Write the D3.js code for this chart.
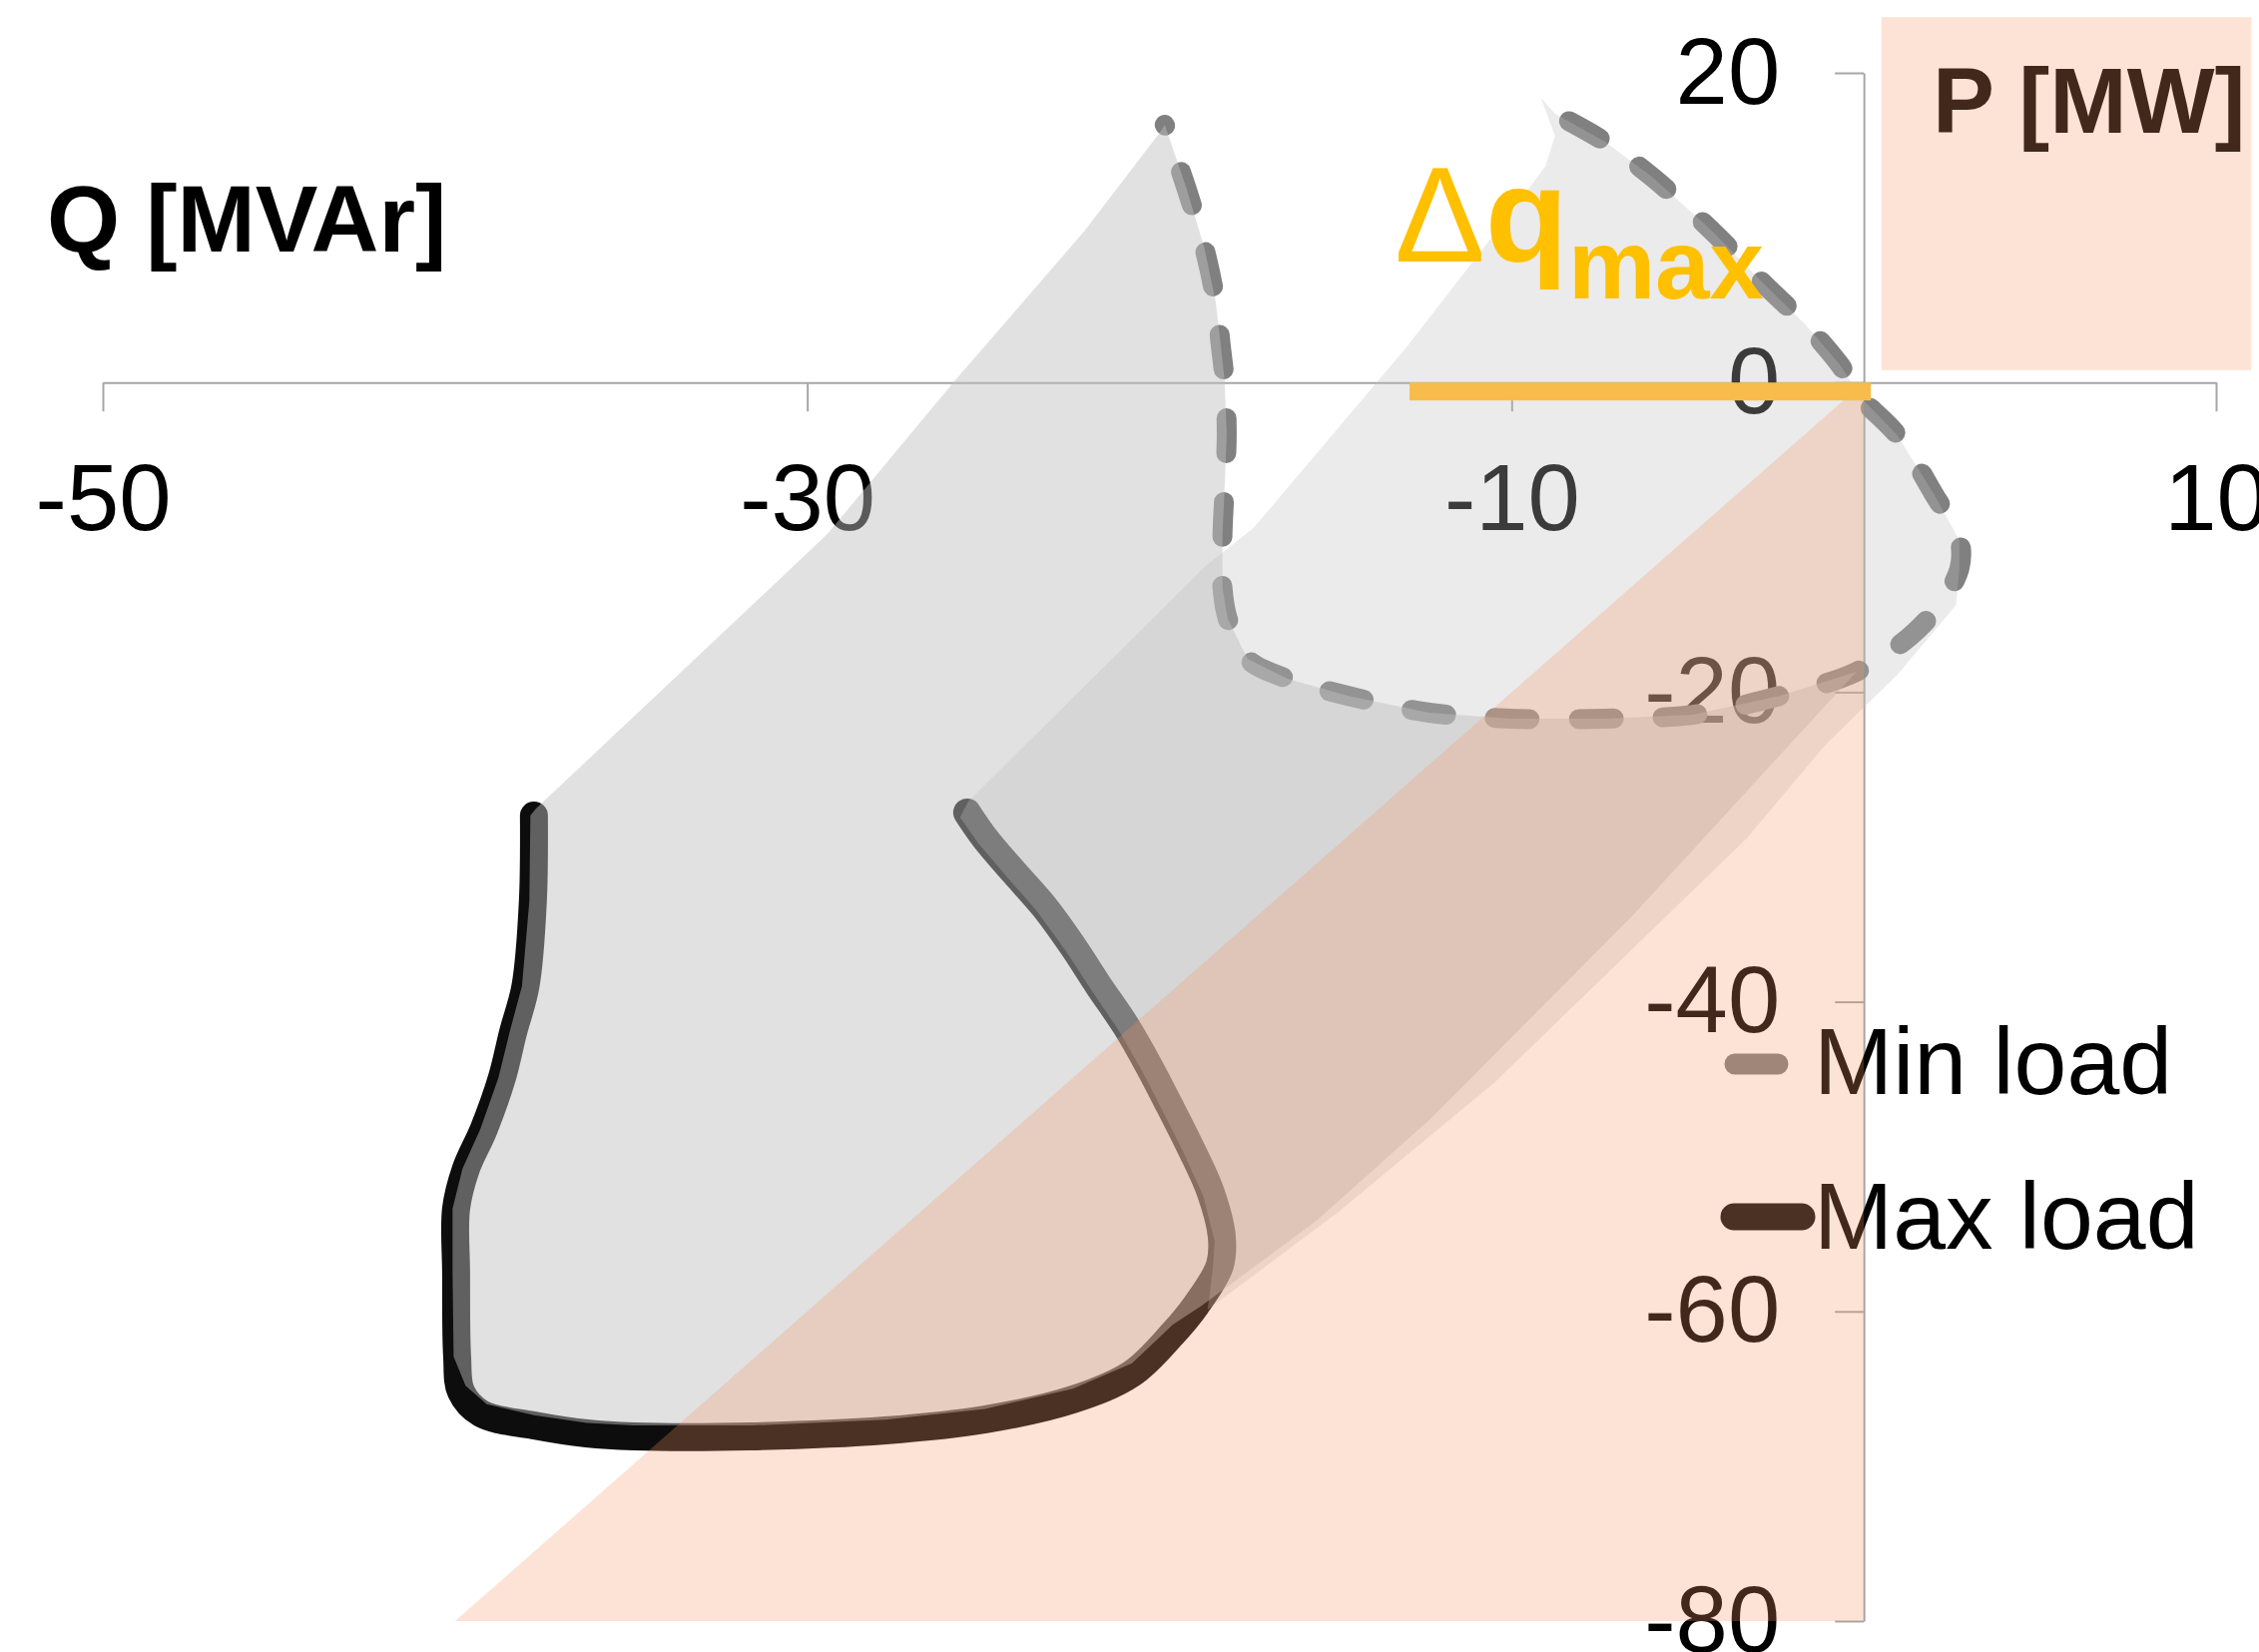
<!DOCTYPE html>
<html>
<head>
<meta charset="utf-8">
<script src="https://cdn.jsdelivr.net/npm/d3@7"></script>
<style>
  html, body { margin: 0; padding: 0; background: #ffffff; }
  svg { display: block; font-family: "Liberation Sans", Arial, Helvetica, sans-serif; }
</style>
</head>
<body>
<svg id="chart" width="2263" height="1655"></svg>
<script>
// ---- axis ticks ----
const qTicks = [-50, -30, -10, 10];
const pTicks = [20, 0, -20, -40, -60, -80];

// ---- PQ capability curves, [Q MVAr, P MW] ----
const minLoad = [
  [-19.85, 16.65], [-19.23, 12.52], [-18.72, 8.65], [-18.40, 5.17], [-18.26, 2.40],
  [-18.15, 0.14], [-18.09, -3.34], [-18.15, -6.82], [-18.21, -9.79], [-18.21, -13.27],
  [-18.06, -15.27], [-17.50, -17.85], [-16.36, -19.14], [-14.66, -20.23], [-12.34, -21.33],
  [-10.02, -21.71], [-7.35, -21.71], [-4.86, -21.46], [-2.37, -20.23], [-0.21, -18.68],
  [1.29, -16.43], [2.14, -14.37], [2.71, -12.04], [2.71, -10.17], [1.97, -7.14],
  [0.95, -3.40], [-0.04, -1.08], [-0.69, 1.17], [-1.69, 3.82], [-2.88, 6.46],
  [-4.35, 9.88], [-6.02, 13.29], [-7.35, 15.55], [-8.77, 17.36]
];
const maxLoad = [
  [-37.76, -27.97], [-37.79, -33.51], [-38.00, -38.99], [-38.35, -41.96], [-38.67, -44.93],
  [-39.18, -48.21], [-39.69, -50.79], [-39.97, -53.37], [-39.97, -57.43], [-39.94, -62.91],
  [-39.83, -65.17], [-39.26, -66.59], [-37.76, -67.36], [-36.26, -67.88], [-34.93, -68.07],
  [-31.61, -68.07], [-27.78, -67.69], [-24.95, -66.98], [-22.46, -65.69], [-20.78, -64.01],
  [-19.62, -61.43], [-18.97, -59.63], [-18.29, -57.05], [-18.23, -55.18], [-18.55, -52.28],
  [-19.14, -49.31], [-19.71, -46.73], [-20.30, -44.15], [-20.95, -41.57], [-21.72, -38.99],
  [-22.46, -36.41], [-23.28, -33.84], [-24.13, -31.64], [-24.95, -29.45], [-25.46, -27.78]
];

// ---- swept operating region between the two loads, part A (left arm + bottom) ----
const rimA = [[-6.56, -34.42], [-12.28, -47.50], [-15.51, -54.08], [-18.80, -59.63]];
const baseA = [
  [-19.62, -60.85], [-20.78, -63.35], [-22.46, -65.00], [-24.95, -66.30], [-27.78, -67.00],
  [-31.61, -67.37], [-34.93, -67.37], [-36.26, -67.20], [-37.76, -66.70], [-39.10, -66.00],
  [-39.70, -64.80], [-40.04, -62.91], [-40.07, -57.43], [-40.07, -53.37], [-39.79, -50.79],
  [-39.28, -48.21], [-38.77, -44.93], [-38.45, -41.96], [-38.10, -38.99], [-37.89, -33.51],
  [-37.86, -27.97]
];
const flankA = [[-37.70, -27.52], [-31.98, -15.27], [-29.43, -9.79], [-25.80, 0.14], [-22.12, 9.81], [-19.93, 16.32]];

// ---- swept operating region, part B (loop + right arm) ----
const apexB = [[-9.17, 18.39]];
const rimB = [[2.62, -14.37], [0.95, -18.88], [-1.09, -23.39], [-3.33, -29.45], [-10.47, -45.18], [-14.95, -53.63], [-18.63, -59.88]];
const baseB = [
  [-18.49, -57.35], [-18.43, -55.48], [-18.75, -52.58], [-19.34, -49.61], [-19.91, -47.03],
  [-20.50, -44.45], [-21.15, -41.87], [-21.92, -39.29], [-22.66, -36.71], [-23.48, -34.14],
  [-24.33, -31.94], [-25.15, -29.75], [-25.66, -28.08]
];
const flankB = [[-25.43, -27.07], [-18.69, -11.85], [-17.33, -9.40], [-12.99, 2.27], [-10.02, 10.97], [-9.03, 14.00], [-8.77, 15.94]];

// ---- admissible zone (P = 2Q boundary) and label box ----
const admissibleZone = [[0, 0], [-40, -80], [0, -80]];
const titleBoxQ = [0.5, 11];
const titleBoxP = [23.6, 0.8];

// ---- reactive power margin ----
const deltaQmax = [-12.9, 0.2];

const legendItems = ["Min load", "Max load"];

// =====================================================================
const svg = d3.select("#chart");
const x = d3.scaleLinear().domain([-50, 10]).range([103, 2220]);
const y = d3.scaleLinear().domain([20, -80]).range([73, 1624]);

const AXIS = "#a6a6a6";

// axes
const gx = svg.append("g")
  .attr("transform", `translate(0,${y(0)})`)
  .call(d3.axisBottom(x).tickValues(qTicks).tickSize(29).tickSizeOuter(0)
    .tickPadding(52).tickFormat(d => String(d)));
const gy = svg.append("g")
  .attr("transform", `translate(${x(0)},0)`)
  .call(d3.axisLeft(y).tickValues(pTicks).tickSize(29).tickSizeOuter(0)
    .tickPadding(55).tickFormat(d => String(d)));
[gx, gy].forEach(g => {
  g.attr("font-family", null).attr("font-size", null);
  g.select(".domain").attr("stroke", AXIS).attr("stroke-width", 2);
  g.selectAll(".tick line").attr("stroke", AXIS).attr("stroke-width", 2);
  g.selectAll(".tick text").attr("fill", "#000").style("font-size", "94px");
});

// axis titles
svg.append("text").attr("x", 47).attr("y", 252)
  .attr("font-weight", "bold").attr("font-size", 94).attr("fill", "#000")
  .text("Q [MVAr]");
svg.append("text").attr("x", 1936).attr("y", 133)
  .attr("font-weight", "bold").attr("font-size", 93).attr("fill", "#000")
  .text("P [MW]");

// legend
const legend = svg.append("g");
legend.append("line").attr("x1", 1738).attr("x2", 1781).attr("y1", 1066).attr("y2", 1066)
  .attr("stroke", "#808080").attr("stroke-width", 21).attr("stroke-linecap", "round");
legend.append("line").attr("x1", 1737).attr("x2", 1805).attr("y1", 1219).attr("y2", 1219)
  .attr("stroke", "#0d0d0d").attr("stroke-width", 27).attr("stroke-linecap", "round");
legend.append("text").attr("x", 1817).attr("y", 1096).attr("font-size", 95).attr("fill", "#000").text(legendItems[0]);
legend.append("text").attr("x", 1817).attr("y", 1251).attr("font-size", 95).attr("fill", "#000").text(legendItems[1]);

// curves
const smooth = d3.line().x(d => x(d[0])).y(d => y(d[1])).curve(d3.curveCatmullRom.alpha(0.5));
const poly = pts => d3.line().x(d => x(d[0])).y(d => y(d[1]))(pts) + "Z";

svg.append("path").attr("d", smooth(minLoad))
  .attr("fill", "none").attr("stroke", "#808080").attr("stroke-width", 20)
  .attr("stroke-linecap", "round").attr("stroke-linejoin", "round")
  .attr("stroke-dasharray", "35 49").attr("stroke-dashoffset", 34);

svg.append("path").attr("d", smooth(maxLoad))
  .attr("fill", "none").attr("stroke", "#0d0d0d").attr("stroke-width", 28)
  .attr("stroke-linecap", "round").attr("stroke-linejoin", "round");

// swept regions (translucent, over the curves)
const regionA = minLoad.slice(0, 20).concat(rimA, baseA, flankA);
const regionB = apexB.concat(minLoad.slice(22).reverse(), rimB, baseB, flankB);
svg.append("path").attr("d", poly(regionA))
  .attr("fill", "rgb(191,191,191)").attr("fill-opacity", 0.47);
svg.append("path").attr("d", poly(regionB))
  .attr("fill", "rgb(191,191,191)").attr("fill-opacity", 0.31);

// admissible zone and P title box
const PEACH = "rgb(247,151,98)";
svg.append("path").attr("d", poly(admissibleZone))
  .attr("fill", PEACH).attr("fill-opacity", 0.265);
svg.append("rect")
  .attr("x", x(titleBoxQ[0])).attr("y", y(titleBoxP[0]))
  .attr("width", x(titleBoxQ[1]) - x(titleBoxQ[0]))
  .attr("height", y(titleBoxP[1]) - y(titleBoxP[0]))
  .attr("fill", PEACH).attr("fill-opacity", 0.265);

// delta q max bar and label
svg.append("rect")
  .attr("x", x(deltaQmax[0])).attr("y", y(0))
  .attr("width", x(deltaQmax[1]) - x(deltaQmax[0])).attr("height", 18)
  .attr("fill", "#f8bc4c");
const dq = svg.append("text").attr("x", 1397).attr("y", 262).attr("fill", "#ffc000");
dq.append("tspan").attr("font-size", 136).text("Δ");
dq.append("tspan").attr("font-size", 136).attr("font-weight", "bold").text("q");
dq.append("tspan").attr("font-size", 98).attr("font-weight", "bold").attr("dy", 37).text("max");
</script>
</body>
</html>
